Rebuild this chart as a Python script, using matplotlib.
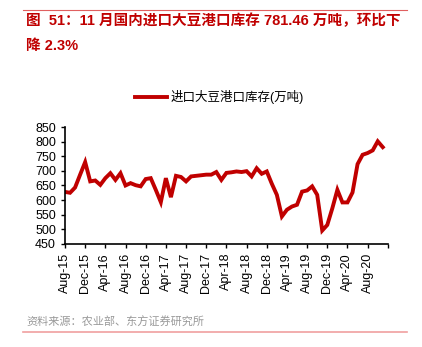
import matplotlib
matplotlib.use("Agg")
import matplotlib.pyplot as plt
from matplotlib.lines import Line2D
import numpy as np

plt.rcParams['font.family'] = ['Liberation Sans', 'Noto Sans CJK SC', 'DejaVu Sans']

# monthly soybean port stocks, Aug-15 .. Nov-20 (10k tons)
stocks = [628, 625, 643, 687, 730, 664, 667, 652, 675, 692, 669, 692,
          650, 658, 651, 647, 672, 675, 635, 593, 675, 610, 683, 679,
          664, 681, 683, 685, 687, 687, 696, 669, 693, 695, 698, 696,
          699, 681, 709, 690, 698, 656, 618, 544, 567, 578, 584, 629,
          633, 647, 618, 496, 515, 572, 635, 592, 592, 626, 723, 755,
          761, 770, 801, 781]
tick_labels = ["Aug-15", "Dec-15", "Apr-16", "Aug-16", "Dec-16", "Apr-17",
               "Aug-17", "Dec-17", "Apr-18", "Aug-18", "Dec-18", "Apr-19",
               "Aug-19", "Dec-19", "Apr-20", "Aug-20", ""]
series_name = "进口大豆港口库存(万吨)"
title_1 = "图  51：11 月国内进口大豆港口库存 781.46 万吨，环比下"
title_2 = "降 2.3%"
source = "资料来源：农业部、东方证券研究所"

red = "#C00000"

fig = plt.figure(figsize=(4.22, 3.47), dpi=100)
ax = fig.add_axes([0.154, 0.297, 0.765, 0.337])

x = np.arange(len(stocks))
ax.plot(x, stocks, color=red, lw=2.8, label=series_name, solid_joinstyle="miter")

ax.set_xlim(0, 64)
ax.set_ylim(450, 850)
ax.set_yticks(np.arange(450, 851, 50))
ax.set_xticks(np.arange(0, 65, 4))
ax.set_xticklabels(tick_labels, rotation=90)
ax.tick_params(labelsize=9, direction="out", length=3, width=1, colors="black")
for s in ["top", "right"]:
    ax.spines[s].set_visible(False)
for s in ["left", "bottom"]:
    ax.spines[s].set_linewidth(1.2)

ax.legend(loc="center", bbox_to_anchor=(0.52, 0.72), bbox_transform=fig.transFigure,
          frameon=False, fontsize=9, handlelength=2.6, handletextpad=0.3)

fig.text(0.062, 0.94, title_1, color=red, fontsize=10.5, fontweight="bold", va="center")
fig.text(0.062, 0.868, title_2, color=red, fontsize=10.5, fontweight="bold", va="center")
fig.text(0.062, 0.072, source, color="#999999", fontsize=8, va="center")

fig.add_artist(Line2D([0.055, 0.965], [0.971, 0.971], color="#E06060", lw=0.8))
fig.add_artist(Line2D([0.055, 0.965], [0.044, 0.044], color="#F0A0A0", lw=1.2))

fig.savefig("out.png", dpi=100)
